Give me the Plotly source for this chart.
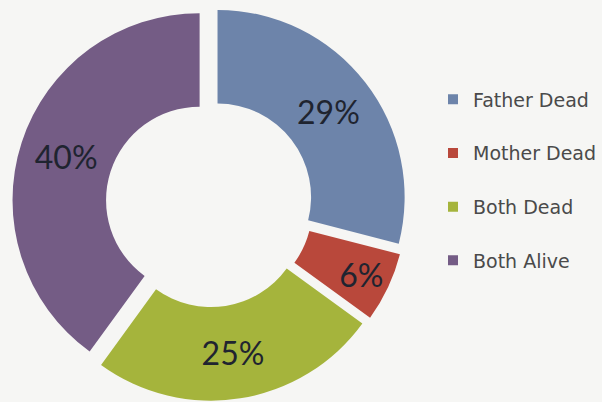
import plotly.graph_objects as go

labels = ["Father Dead", "Mother Dead", "Both Dead", "Both Alive"]
values = [29, 6, 25, 40]
colors = ["#6D84AA", "#B9483B", "#A5B43C", "#745C85"]

fig = go.Figure()
fig.add_trace(go.Pie(
    labels=labels, values=values, sort=False, direction="clockwise", rotation=0,
    hole=0.5, pull=[0.055] * 4,
    marker=dict(colors=colors, line=dict(width=0)),
    textinfo="percent", textposition="inside", insidetextorientation="horizontal",
    textfont=dict(family="Lato, Open Sans, sans-serif", size=32, color="#1f2430"),
    domain=dict(x=[0.015, 0.683], y=[0.003, 0.985]),
    showlegend=False, hoverinfo="label+percent",
))
for i, (lab, col) in enumerate(zip(labels, colors)):
    fig.add_trace(go.Scatter(
        x=[None], y=[None], mode="markers", name=lab,
        marker=dict(symbol="square", size=10, color=col),
        legendgroup=f"g{i}", showlegend=True,
    ))

fig.update_layout(
    width=602, height=402,
    margin=dict(l=0, r=0, t=0, b=0),
    paper_bgcolor="#f6f6f4", plot_bgcolor="#f6f6f4",
    xaxis=dict(visible=False), yaxis=dict(visible=False),
    legend=dict(x=0.722, y=0.8, xanchor="left", yanchor="top",
                font=dict(family="DejaVu Sans, Verdana, sans-serif", size=19, color="#4a4a4a"),
                tracegroupgap=26, itemwidth=30, bgcolor="rgba(0,0,0,0)"),
)
fig.write_html("out.html", config={"displayModeBar": False},
               post_script="document.body.style.margin='0';document.body.style.background='#f6f6f4';")
